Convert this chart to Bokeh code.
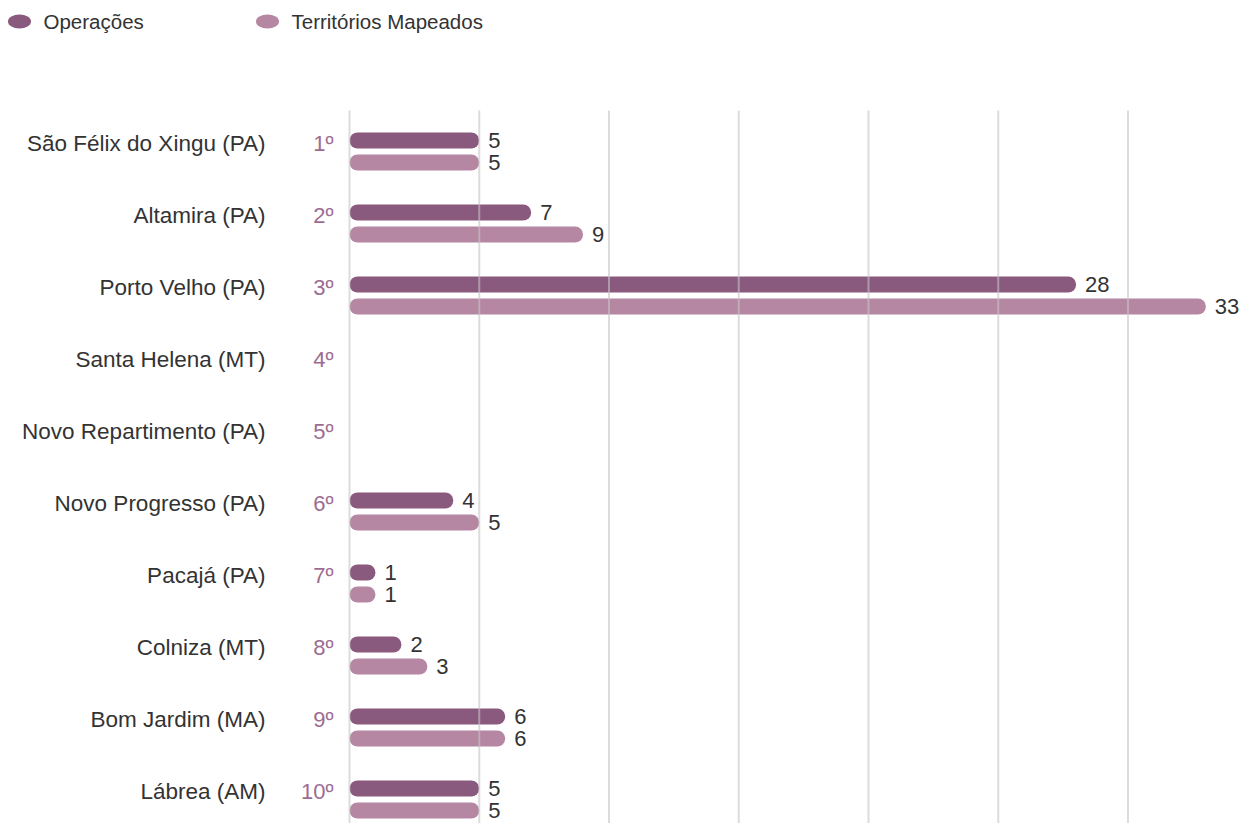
from bokeh.plotting import figure
from bokeh.models import Range1d, ColumnDataSource
from bokeh.core.properties import value
from bokeh.embed import file_html
from bokeh.resources import INLINE

# ---- data ----
cities = ["São Félix do Xingu (PA)", "Altamira (PA)", "Porto Velho (PA)", "Santa Helena (MT)",
          "Novo Repartimento (PA)", "Novo Progresso (PA)", "Pacajá (PA)", "Colniza (MT)",
          "Bom Jardim (MA)", "Lábrea (AM)"]
ranks = ["1º", "2º", "3º", "4º", "5º", "6º", "7º", "8º", "9º", "10º"]
operacoes = [5, 7, 28, None, None, 4, 1, 2, 6, 5]
territorios = [5, 9, 33, None, None, 5, 1, 3, 6, 5]
ticks = [0, 5, 10, 15, 20, 25, 30]
series_names = ["Operações", "Territórios Mapeados"]

# ---- styling / layout ----
DARK = "#8a5a7e"
LIGHT = "#b687a2"
RANKC = "#9c6c92"
TXT = "#333333"
FONT = "Liberation Sans"

W, H = 1240, 823
PX = 25.95          # pixels per unit
ZERO = 349          # pixel x of value 0
ROW = 72.0          # pixels per row
ROW1 = 151          # pixel y of row 1 center

def xd(px):
    return (px - ZERO) / PX

def yd(px):
    return 1 + (px - ROW1) / ROW

x_start = xd(0)
x_end = xd(W)
y_top = yd(0)
y_bot = yd(H)

p = figure(width=W, height=H, output_backend="svg", toolbar_location=None,
           x_range=Range1d(x_start, x_end), y_range=Range1d(y_bot, y_top),
           min_border=0, min_border_left=0, min_border_right=0,
           min_border_top=0, min_border_bottom=0)
p.axis.visible = False
p.grid.visible = False
p.outline_line_color = None
p.background_fill_color = "white"
p.border_fill_color = "white"

rows = list(range(1, len(cities) + 1))
off = 11 / ROW
bh = 16 / ROW

op_src = ColumnDataSource(dict(
    y=[r - off for r, v in zip(rows, operacoes) if v],
    v=[v for v in operacoes if v],
    t=[str(v) for v in operacoes if v]))
te_src = ColumnDataSource(dict(
    y=[r + off for r, v in zip(rows, territorios) if v],
    v=[v for v in territorios if v],
    t=[str(v) for v in territorios if v]))

p.hbar(y="y", left=0, right="v", height=bh, source=op_src, fill_color=DARK,
       line_color=None, border_radius=8)
p.hbar(y="y", left=0, right="v", height=bh, source=te_src, fill_color=LIGHT,
       line_color=None, border_radius=8)

# grid lines (drawn over bars, semi-transparent)
p.segment(x0=ticks, x1=ticks, y0=[yd(110)] * len(ticks), y1=[y_bot] * len(ticks),
          line_color="#c4c4c4", line_alpha=0.6, line_width=2)

# value labels
for src in (op_src, te_src):
    p.text(x="v", y="y", text="t", source=src, x_offset=9, text_align="left",
           text_baseline="middle", text_font=value(FONT), text_font_size="22px",
           text_color=TXT)

# category labels
lab_y = [r - 8 / ROW for r in rows]
p.text(x=[0] * len(rows), y=lab_y, text=cities, x_offset=-84, text_align="right",
       text_baseline="middle", text_font=value(FONT), text_font_size="22.5px",
       text_color=TXT)
p.text(x=[0] * len(rows), y=lab_y, text=ranks, x_offset=-16, text_align="right",
       text_baseline="middle", text_font=value(FONT), text_font_size="22px",
       text_color=RANKC)

# legend
p.ellipse(x=[xd(19), xd(267)], y=[yd(21)] * 2, width=23, height=14,
          width_units="screen", height_units="screen",
          fill_color=[DARK, LIGHT], line_color=None)
p.text(x=[xd(43), xd(291)], y=[yd(21)] * 2, text=series_names, text_align="left",
       text_baseline="middle", text_font=value(FONT), text_font_size="20.5px",
       text_color=TXT)

open("out.html", "w").write(file_html(p, INLINE))
